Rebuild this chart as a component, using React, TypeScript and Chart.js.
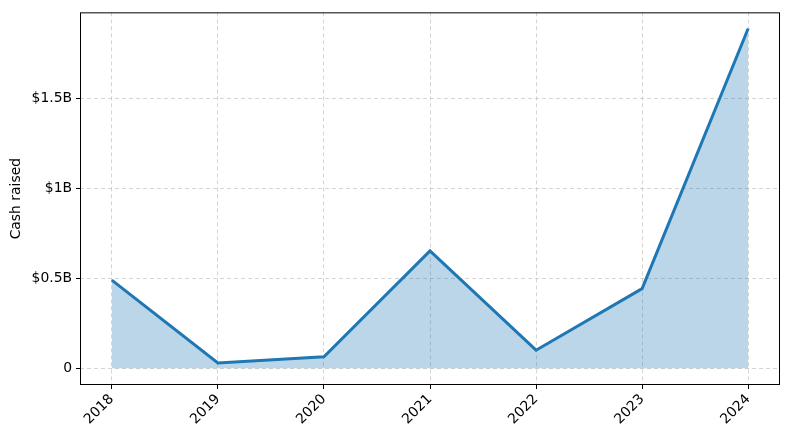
import React, { useEffect, useRef } from "react";
import { Chart, registerables } from "chart.js";

Chart.register(...registerables);

const years = ["2018", "2019", "2020", "2021", "2022", "2023", "2024"];
const cashRaisedB = [0.49, 0.029, 0.063, 0.653, 0.10, 0.443, 1.892];
const yTicks = [0, 0.5, 1, 1.5];
const yTickLabels = ["0", "$0.5B", "$1B", "$1.5B"];

const frame = {
  id: "frame",
  afterDraw(chart: any) {
    const { ctx, chartArea: a } = chart;
    ctx.save();
    ctx.strokeStyle = "#000";
    ctx.lineWidth = 1;
    ctx.strokeRect(a.left + 0.5, a.top + 0.5, a.right - a.left - 1, a.bottom - a.top - 1);
    ctx.restore();
  },
};

export default function App() {
  const ref = useRef<HTMLCanvasElement>(null);
  useEffect(() => {
    const font = { family: "DejaVu Sans", size: 13.9 };
    const chart = new Chart(ref.current!, {
      type: "line",
      data: {
        datasets: [
          {
            data: cashRaisedB.map((v, i) => ({ x: i, y: v })),
            borderColor: "#1f77b4",
            borderWidth: 3,
            backgroundColor: "rgba(31,119,180,0.3)",
            fill: "origin",
            pointRadius: 0,
            tension: 0,
          },
        ],
      },
      options: {
        animation: false,
        responsive: false,
        layout: { padding: { top: 10, right: 10, left: 0, bottom: 0 } },
        plugins: { legend: { display: false }, tooltip: { enabled: false } },
        scales: {
          x: {
            type: "linear",
            min: -0.3,
            max: 6.3,
            afterBuildTicks: (s: any) => {
              s.ticks = years.map((_, i) => ({ value: i }));
            },
            afterFit: (s: any) => {
              s.height = 55;
            },
            ticks: {
              callback: (v: any) => years[v] ?? "",
              minRotation: 45,
              maxRotation: 45,
              color: "#000",
              font,
              padding: 2,
              autoSkip: false,
            },
            grid: {
              color: "rgba(170,170,170,0.5)",
              tickBorderDash: [],
              tickColor: "#000",
              tickLength: 4,
              drawTicks: true,
            } as any,
            border: { display: false, dash: [4, 3] },
          },
          y: {
            type: "linear",
            min: -0.094,
            max: 1.982,
            afterBuildTicks: (s: any) => {
              s.ticks = yTicks.map((v) => ({ value: v }));
            },
            afterFit: (s: any) => {
              s.width = 80;
            },
            ticks: {
              callback: (v: any) => {
                const i = yTicks.indexOf(v);
                return i >= 0 ? yTickLabels[i] : "";
              },
              color: "#000",
              font,
              padding: 4,
            },
            title: {
              display: true,
              text: "Cash raised",
              color: "#000",
              font,
              padding: { top: 8, bottom: 0 },
            },
            grid: {
              color: "rgba(170,170,170,0.5)",
              tickBorderDash: [],
              tickColor: "#000",
              tickLength: 4,
            } as any,
            border: { display: false, dash: [4, 3] },
          },
        },
      },
      plugins: [frame],
    } as any);
    return () => chart.destroy();
  }, []);
  return (
    <div style={{ position: "fixed", left: 0, top: 0, width: 790, height: 440, background: "#fff" }}>
      <canvas ref={ref} width={790} height={440} />
    </div>
  );
}
